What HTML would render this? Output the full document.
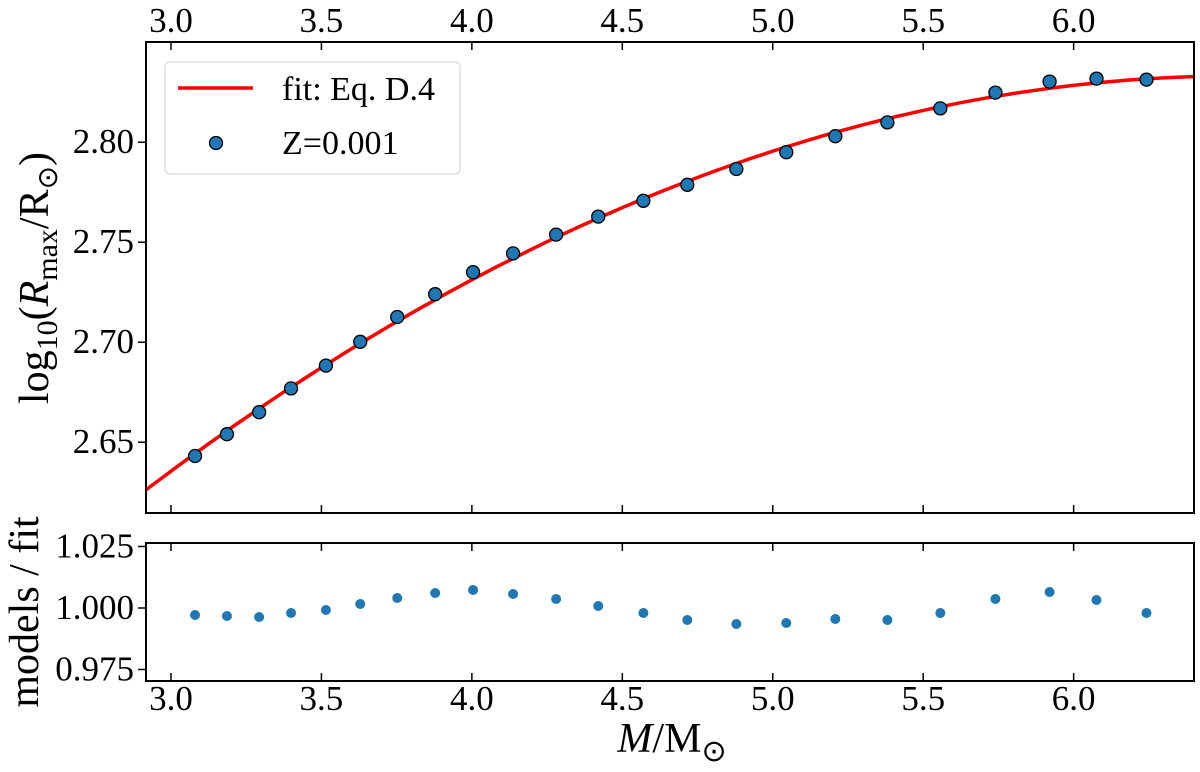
<!DOCTYPE html>
<html><head><meta charset="utf-8"><style>
html,body{margin:0;padding:0;background:#fff}
svg text{font-family:"Liberation Serif",serif;fill:#000}
</style></head><body>
<svg id="chart" width="1200" height="767" xmlns="http://www.w3.org/2000/svg">
<g id="main"></g>
<g id="lower"></g>
</svg>
<script>
const masses = [3.080,3.186,3.293,3.399,3.515,3.629,3.752,3.878,4.004,4.137,4.280,4.420,4.570,4.716,4.879,5.045,5.208,5.381,5.557,5.740,5.920,6.076,6.242];
const logRmax = [2.6431,2.6540,2.6650,2.6769,2.6883,2.7002,2.7126,2.7240,2.7350,2.7444,2.7538,2.7628,2.7707,2.7787,2.7866,2.7950,2.8030,2.8099,2.8169,2.8248,2.8303,2.8318,2.8313];
const ratios = [0.99715,0.99675,0.99634,0.99797,0.99919,1.00163,1.00407,1.00610,1.00732,1.00569,1.00366,1.00081,0.99797,0.99512,0.99350,0.99390,0.99553,0.99512,0.99797,1.00366,1.00650,1.00325,0.99797];
const fitCoeffs = [2.8328, 0.00468, -0.01569];
const fitM0 = 6.4;
const xTicks = [3.0,3.5,4.0,4.5,5.0,5.5,6.0];
const xTickLabels = ["3.0","3.5","4.0","4.5","5.0","5.5","6.0"];
const yTicks = [2.65,2.70,2.75,2.80];
const yTickLabels = ["2.65","2.70","2.75","2.80"];
const rTicks = [0.975,1.000,1.025];
const rTickLabels = ["0.975","1.000","1.025"];

const NS="http://www.w3.org/2000/svg";
const L=146,R=1194,MT=42,MB=513,LT=543,LB=681;
const xmin=2.917,xmax=6.40,ymin=2.6146,ymax=2.8501,rmin=0.97032,rmax=1.02642;
const X=m=>L+(m-xmin)/(xmax-xmin)*(R-L);
const Y=v=>MB-(v-ymin)/(ymax-ymin)*(MB-MT);
const YR=v=>LB-(v-rmin)/(rmax-rmin)*(LB-LT);
function mk(tag,at,parent,txt){const e=document.createElementNS(NS,tag);for(const k in at)e.setAttribute(k,at[k]);if(txt!==undefined)e.textContent=txt;parent.appendChild(e);return e;}
const main=document.getElementById('main'),lower=document.getElementById('lower');

let d="";for(let i=0;i<=200;i++){const m=xmin+(xmax-xmin)*i/200;const t=m-fitM0;const v=fitCoeffs[0]+fitCoeffs[1]*t+fitCoeffs[2]*t*t;d+=(i?"L":"M")+X(m).toFixed(1)+","+Y(v).toFixed(1);}
const cp=mk('clipPath',{id:'clipm'},main);mk('rect',{x:L,y:MT,width:R-L,height:MB-MT},cp);
const fit=mk('path',{d:d,fill:'none',stroke:'#ff0000','stroke-width':3.5,'clip-path':'url(#clipm)'},main);


masses.forEach((m,i)=>{
  const c=mk('circle',{cx:X(m),cy:Y(logRmax[i]),r:6.5,fill:'#1f77b4',stroke:'#000','stroke-width':1.3},main);
  
  
  const c2=mk('circle',{cx:X(m),cy:YR(ratios[i]),r:5,fill:'#1f77b4'},lower);
  
  
});
mk('rect',{x:L,y:MT,width:R-L,height:MB-MT,fill:'none',stroke:'#000','stroke-width':2},main);
mk('rect',{x:L,y:LT,width:R-L,height:LB-LT,fill:'none',stroke:'#000','stroke-width':2},lower);
xTicks.forEach((t,i)=>{const x=X(t);
  [[MT,MT+8],[MB,MB-8],[LT,LT+8],[LB,LB-8]].forEach(p=>mk('line',{x1:x,x2:x,y1:p[0],y2:p[1],stroke:'#000','stroke-width':1.5},main));
  const a=mk('text',{x:x,y:32,'font-size':35,'text-anchor':'middle'},main,xTickLabels[i]);
  
  
  const b=mk('text',{x:x,y:710,'font-size':35,'text-anchor':'middle'},lower,xTickLabels[i]);
  
  
});
yTicks.forEach((t,i)=>{const y=Y(t);
  mk('line',{x1:L-8,x2:L,y1:y,y2:y,stroke:'#000','stroke-width':1.5},main);
  const a=mk('text',{x:L-12,y:y+11,'font-size':35,'text-anchor':'end'},main,yTickLabels[i]);
  
  
});
rTicks.forEach((t,i)=>{const y=YR(t);
  mk('line',{x1:L-8,x2:L,y1:y,y2:y,stroke:'#000','stroke-width':1.5},lower);
  const a=mk('text',{x:L-12,y:y+11,'font-size':35,'text-anchor':'end'},lower,rTickLabels[i]);
  
  
});
</script>
<svg style="position:absolute;left:0;top:0" width="1200" height="767">
<g>
<rect x="165" y="62" width="295" height="112" rx="5" fill="#fff" stroke="#ddd" stroke-width="1.5"/>
<line x1="178" y1="88" x2="253" y2="88" stroke="#ff0000" stroke-width="3.5"/>
<text x="282" y="100" font-size="34" font-family="Liberation Serif, serif">fit: Eq. D.4</text>
<circle cx="216" cy="143" r="6.5" fill="#1f77b4" stroke="#000" stroke-width="1.3"/>
<text x="282" y="154" font-size="34" font-family="Liberation Serif, serif">Z=0.001</text>
</g>
<text transform="translate(48,278) rotate(-90)" text-anchor="middle" font-size="42" font-family="Liberation Serif, serif">log<tspan font-size="30" dy="9">10</tspan><tspan dy="-9">(</tspan><tspan font-style="italic">R</tspan><tspan font-size="30" dy="9">max</tspan><tspan dy="-9">/R</tspan><tspan font-size="28" dy="9">⊙</tspan><tspan dy="-9">)</tspan></text>
<text transform="translate(38,612) rotate(-90)" text-anchor="middle" font-size="42" font-family="Liberation Serif, serif">models / fit</text>
<text x="672" y="752" text-anchor="middle" font-size="42" font-family="Liberation Serif, serif"><tspan font-style="italic">M</tspan>/M<tspan font-size="30" dy="9">⊙</tspan></text>
</svg>
</body></html>
